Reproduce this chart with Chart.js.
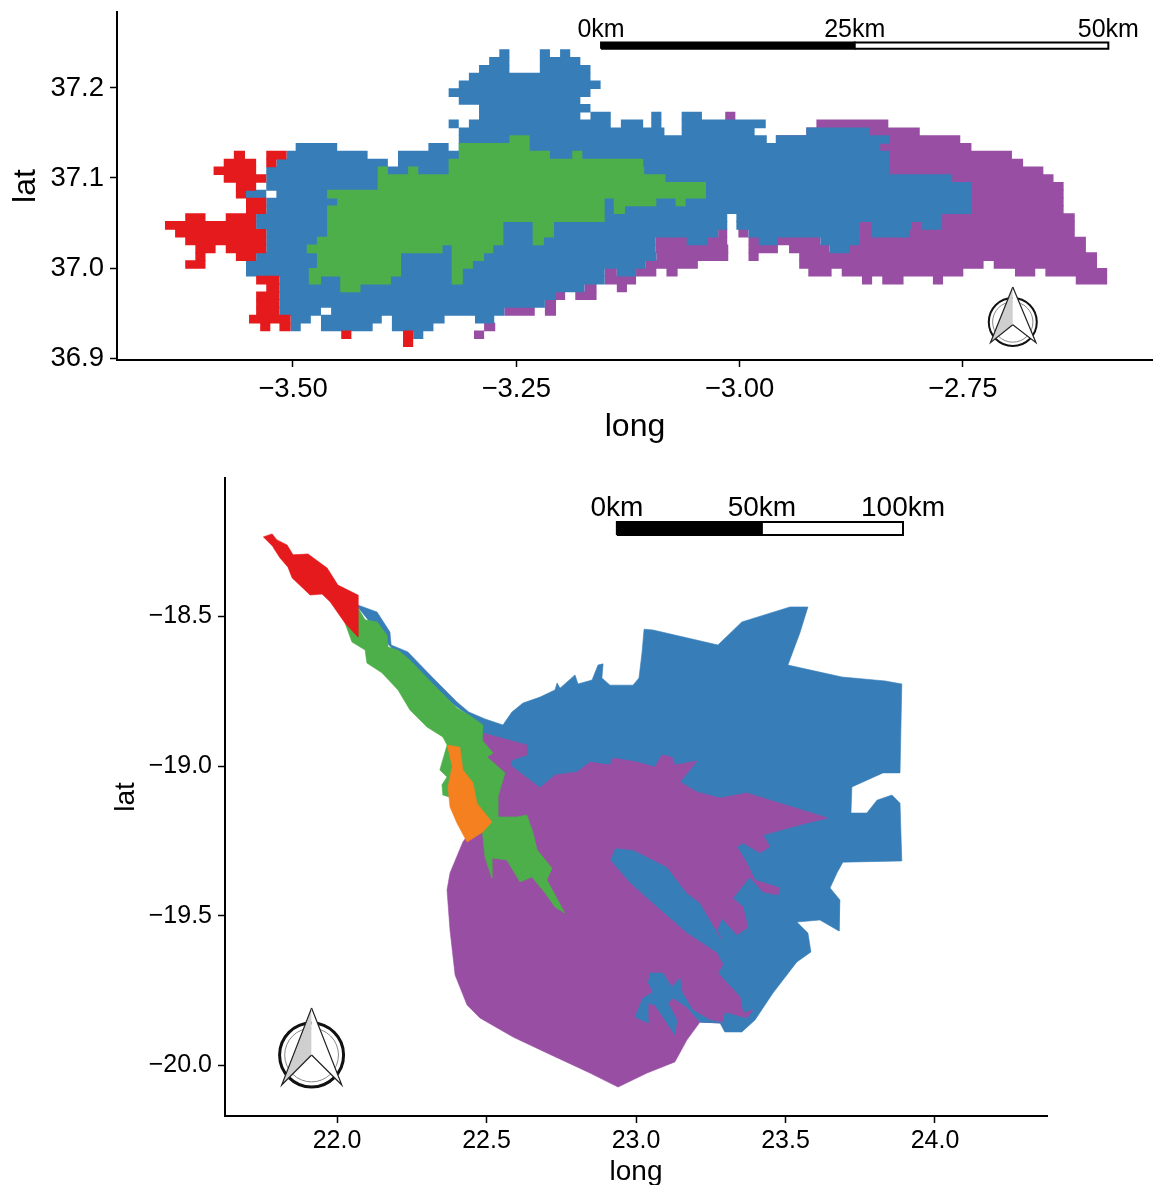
<!DOCTYPE html>
<html><head><meta charset="utf-8">
<script src="https://cdn.jsdelivr.net/npm/chart.js@4"></script>
<style>
html,body{margin:0;padding:0;background:#fff;width:1153px;height:1185px;overflow:hidden}
canvas{position:absolute;left:0}
#top{top:0;filter:blur(0.45px)}
#bottom{top:460px}
</style></head><body>
<canvas id="top" width="1153" height="450"></canvas>
<canvas id="bottom" width="1153" height="735"></canvas>
<script>
const RED='#E41A1C',BLUE='#377EB8',GREEN='#4DAF4A',PURPLE='#984EA3',ORANGE='#F58020';

/* ---------- upper map: raster ---------- */
/* each entry: [row, colStart, colEnd, colStart, colEnd, ...] */
const cellOriginLon=-3.6433, cellOriginLat=37.243, cellLon=0.011344, cellLat=0.008678;
const purpleCells=[
[8,55.3,56.3],[9,64.3,71.4],[10,63.3,74.5],[11,60.3,78.5],[12,70,79.6],[13,70,83.6],[14,70,84.7],[15,70,86.7],
[16,70,87.7],[17,75,88.7],[18,75,88.7],[19,75,88.7],[20,75,88.7],[21,75,89.8],[22,68,89.8],
[23,54.6,55.5,56.6,57.6,68.6,89.8],[24,48.4,55.5,57.6,64.7,68,90.9],[25,48.4,55.6,57.6,60.5,61.6,65.6,67,90.9],
[26,48.5,55.6,57.6,58.6,62.6,92],[27,47.4,52.6,62.6,80.8,81.8,92],
[28,43.4,44.6,46.5,48.5,49.5,50.6,63.5,65.8,66.8,78.8,83.9,85.9,86.9,93],
[29,43.4,46.5,68.8,69.8,70.8,72.9,75.8,76.8,89.9,93],[30,41.4,42.6,44.6,45.6],[31,38.5,39.5,40.5,42.6],
[32,37.5,38.6],[33,33.5,36.5,37.5,38.6],[35,31.5,32.6],[36,30.5,31.5]];
const blueCells=[
[0,33,34,37,38,39,40],[1,32,34,37,41],[2,31,34,37,42],[3,30,42],[4,29,43],[5,28,42],[6,29,41],[7,31,42],
[8,31,41,42,44,48,49,51,53],[9,28,29,30,44,45,47.2,48,49,51,59.3],[10,29,49.3,51,58.2,63.3,69.5],
[11,29,59.4,60.3,71.5],[12,12.9,17,26,28,29,70.6],[13,12,20,23,71.5],[14,11,22,23,71.5],[15,10,71.5],
[16,10,77.7],[17,10,79.6],[18,8,10,11,79.6],[19,10,79.6],[20,10,79.6],[21,9,55.5,56.4,76.7],
[22,9,55.5,56.4,68.6,69.7,73.7,74.7,76.7],[23,10,54.6,57.6,68.6,69.7,73.5],
[24,10,48.4,51.5,53.5,58.6,60.5,64.7,68.6],[25,10,48.4,65.6,67.6],[26,9,48.5],[27,8,47.4],[28,8,43.4,44.6,46.5],
[29,11.3,43.4],[30,11.3,41.4],[31,11.3,38.5],[32,11.3,37.5],[33,11.3,15.4,16.4,33.5],
[34,12.4,14.4,15.4,21.4,22.4,27.6,30.6,32.5],[35,12.4,13.4,15.4,20.5,22.4,26.5],[36,24.5,25.5]];
const greenCells=[
[11,34,36],[12,29,36],[13,29,38,40.2,41.2],[14,28,47.2],[15,21,22,24,25,28,47.3],[16,21,49.4],[17,21,53.4],
[18,16,53.4],[19,17,43.4,44.3,48.5,50.4,51.4],[20,16,43.4,44.3,45.4],[21,16,43.4],[22,16,33.4,36.3,38.4],
[23,16,33.4,36.3,38.4],[24,15,33.4,36.3,37.4],[25,14,27.4,28.3,32.4],[26,15,23.3,28.3,31.5],[27,15,23.3,28.3,30.4],
[28,14.2,23.3,28.3,29.4],[29,14.2,15.4,17.3,22.3,28.3,29.4],[30,17.3,19.3]];
const redCells=[
[13,6.8,7.9,10,12],[14,5.8,9,10,11],[15,4.8,9],[16,5.8,10],[17,7,9],[18,7,8],[19,8,10],[20,8,10],[21,2,4,6,9],
[22,0,9],[23,1,10],[24,2,10],[25,3,5,6,10],[26,3,4,7,9],[27,2,4],[29,9,11.3],[30,10,11.3],[31,9,11.3],[32,9,11.3],
[33,9,11.3],[34,8.3,12.4],[35,9.4,10.4,11.3,12.4],[36,17.4,18.4,23.5,24.5],[37,23.5,24.5]];

const topLonTicks=[-3.5,-3.25,-3,-2.75], topLatTicks=[36.9,37,37.1,37.2];
const topLonRange=[-3.697,-2.537], topLatRange=[36.8978,37.2844];
const topBarLon=[-3.155,-2.871,-2.587], topBarLat=[37.2435,37.2505], topBarLabelLat=37.2645;
const topBarLabels=['0km','25km','50km'];
const topArrowLeft=[[-2.694,36.979],[-2.719,36.917],[-2.694,36.937]];
const topArrowRight=[[-2.694,36.979],[-2.668,36.917],[-2.694,36.937]];
const topRingCentre=[-2.694,36.940];

/* ---------- lower map: outlines (long, lat) ---------- */
const lowerBlue=[[22.060,-18.459],[22.134,-18.486],[22.177,-18.553],[22.181,-18.596],[22.237,-18.619],[22.321,-18.706],[22.401,-18.786],[22.441,-18.820],[22.495,-18.843],[22.555,-18.863],[22.585,-18.820],[22.622,-18.790],[22.679,-18.770],[22.729,-18.746],[22.736,-18.723],[22.746,-18.740],[22.796,-18.696],[22.806,-18.726],[22.853,-18.713],[22.873,-18.663],[22.890,-18.659],[22.886,-18.706],[22.913,-18.730],[22.990,-18.730],[23.010,-18.706],[23.020,-18.623],[23.027,-18.543],[23.057,-18.546],[23.274,-18.596],[23.354,-18.519],[23.515,-18.469],[23.575,-18.469],[23.548,-18.556],[23.508,-18.663],[23.689,-18.703],[23.833,-18.716],[23.889,-18.726],[23.883,-19.023],[23.826,-19.023],[23.722,-19.070],[23.719,-19.157],[23.772,-19.157],[23.806,-19.114],[23.856,-19.097],[23.883,-19.124],[23.889,-19.317],[23.692,-19.321],[23.672,-19.357],[23.649,-19.407],[23.682,-19.447],[23.679,-19.551],[23.615,-19.514],[23.538,-19.521],[23.575,-19.558],[23.585,-19.621],[23.538,-19.654],[23.458,-19.758],[23.398,-19.848],[23.354,-19.888],[23.297,-19.888],[23.281,-19.858],[23.214,-19.855],[22.746,-19.250],[22.500,-19.000],[22.461,-18.846],[22.278,-18.713],[22.144,-18.563]];
const lowerPurple=[[22.488,-18.890],[22.635,-18.930],[22.635,-18.963],[22.585,-18.980],[22.579,-18.997],[22.679,-19.073],[22.729,-19.030],[22.803,-19.020],[22.846,-18.987],[22.913,-18.997],[22.923,-18.973],[23.003,-18.987],[23.063,-19.003],[23.087,-18.963],[23.120,-18.970],[23.130,-18.997],[23.204,-18.983],[23.174,-19.020],[23.147,-19.053],[23.204,-19.087],[23.281,-19.107],[23.371,-19.090],[23.481,-19.124],[23.642,-19.174],[23.572,-19.190],[23.425,-19.230],[23.448,-19.270],[23.415,-19.290],[23.358,-19.257],[23.338,-19.270],[23.371,-19.324],[23.398,-19.381],[23.481,-19.407],[23.475,-19.431],[23.425,-19.421],[23.381,-19.371],[23.324,-19.441],[23.358,-19.471],[23.374,-19.538],[23.338,-19.564],[23.287,-19.508],[23.271,-19.548],[23.287,-19.581],[23.214,-19.457],[23.170,-19.424],[23.104,-19.337],[22.990,-19.280],[22.930,-19.274],[22.913,-19.314],[22.980,-19.391],[23.070,-19.471],[23.170,-19.558],[23.271,-19.624],[23.291,-19.664],[23.274,-19.691],[23.348,-19.771],[23.358,-19.825],[23.391,-19.815],[23.371,-19.841],[23.297,-19.821],[23.287,-19.858],[23.214,-19.855],[23.170,-19.915],[23.130,-19.988],[23.037,-20.025],[22.940,-20.072],[22.846,-20.025],[22.702,-19.958],[22.589,-19.905],[22.478,-19.841],[22.435,-19.798],[22.395,-19.698],[22.378,-19.548],[22.368,-19.414],[22.378,-19.357],[22.421,-19.254],[22.461,-19.197],[22.478,-19.047]];
const lowerBlueLobes=[[23.047,-19.691],[23.090,-19.691],[23.120,-19.738],[23.147,-19.708],[23.154,-19.755],[23.190,-19.815],[23.247,-19.848],[23.291,-19.858],[23.214,-19.855],[23.170,-19.805],[23.124,-19.775],[23.107,-19.791],[23.137,-19.848],[23.130,-19.898],[23.104,-19.858],[23.063,-19.798],[23.037,-19.791],[23.040,-19.858],[22.997,-19.838],[23.023,-19.775],[23.057,-19.755],[23.040,-19.721]];
const lowerGreen=[[22.070,-18.472],[22.094,-18.512],[22.134,-18.519],[22.167,-18.563],[22.171,-18.603],[22.204,-18.613],[22.244,-18.646],[22.321,-18.726],[22.401,-18.806],[22.451,-18.836],[22.488,-18.863],[22.485,-18.913],[22.522,-18.957],[22.502,-18.970],[22.562,-19.023],[22.538,-19.104],[22.538,-19.170],[22.602,-19.170],[22.635,-19.164],[22.655,-19.220],[22.669,-19.280],[22.719,-19.341],[22.702,-19.381],[22.762,-19.491],[22.729,-19.471],[22.696,-19.424],[22.652,-19.371],[22.612,-19.387],[22.568,-19.314],[22.518,-19.307],[22.518,-19.374],[22.495,-19.304],[22.485,-19.207],[22.411,-19.114],[22.354,-19.097],[22.351,-19.063],[22.368,-19.037],[22.344,-19.013],[22.368,-18.930],[22.354,-18.903],[22.301,-18.870],[22.244,-18.813],[22.204,-18.746],[22.150,-18.689],[22.100,-18.656],[22.094,-18.613],[22.050,-18.586],[22.027,-18.523],[22.067,-18.546]];
const lowerOrange=[[22.368,-18.930],[22.411,-18.937],[22.421,-19.013],[22.455,-19.057],[22.468,-19.124],[22.518,-19.187],[22.488,-19.220],[22.435,-19.254],[22.401,-19.190],[22.378,-19.137],[22.371,-19.070],[22.385,-19.003]];
const lowerRed=[[21.753,-18.235],[21.783,-18.225],[21.799,-18.245],[21.833,-18.262],[21.853,-18.295],[21.903,-18.292],[21.967,-18.339],[22.003,-18.396],[22.070,-18.429],[22.070,-18.569],[22.027,-18.523],[21.977,-18.452],[21.950,-18.426],[21.910,-18.429],[21.850,-18.372],[21.836,-18.336],[21.809,-18.305],[21.786,-18.269]];

const lowLonTicks=[22,22.5,23,23.5,24], lowLatTicks=[-18.5,-19,-19.5,-20];
const lowLonRange=[21.6254,24.3746], lowLatRange=[-20.1686,-18.0384];
const lowBarLon=[22.936,23.421,23.893], lowBarLat=[-18.229,-18.185], lowBarLabelLat=-18.139;
const lowBarLabels=['0km','50km','100km'];
const lowArrowLeft=[[21.915,-19.808],[21.815,-20.065],[21.915,-19.965]];
const lowArrowRight=[[21.915,-19.808],[22.016,-20.065],[21.915,-19.965]];
const lowRingCentre=[21.915,-19.965];

/* ---------- helpers ---------- */
function poly(pairs,fillColor,edge,edgeW){
  return {data:pairs.map(p=>({x:p[0],y:p[1]})),showLine:true,fill:'shape',tension:0,pointRadius:0,
    backgroundColor:fillColor,borderColor:edge||fillColor,borderWidth:edgeW===undefined?0.6:edgeW};
}
function cellsToSets(rows,color){
  const out=[];
  rows.forEach(r=>{
    /* each row reaches slightly into the next one so no seam shows between rows */
    const j=r[0],y0=cellOriginLat-j*cellLat,y1=y0-cellLat*1.1;
    for(let k=1;k<r.length;k+=2){
      const x0=cellOriginLon+r[k]*cellLon,x1=cellOriginLon+r[k+1]*cellLon;
      out.push(poly([[x0,y0],[x1,y0],[x1,y1],[x0,y1],[x0,y0]],color,color,0));
    }
  });
  return out;
}
function barSets(lons,lats){
  const box=(a,b,c)=>poly([[a,lats[0]],[b,lats[0]],[b,lats[1]],[a,lats[1]],[a,lats[0]]],c,'#000',2);
  return [box(lons[0],lons[1],'#000'),box(lons[1],lons[2],'#fff')];
}
function arrowSets(left,right,centre,r,rw){
  const ring=(rad,col,w)=>({data:[{x:centre[0],y:centre[1]}],showLine:false,pointRadius:rad,
    pointBackgroundColor:'rgba(0,0,0,0)',pointBorderColor:col,pointBorderWidth:w});
  return [ring(r,'#111',rw),ring(r*0.84,'#888',1),
    poly(left,'#cfcfcf','#222',1.2),poly(right,'#fff','#222',1.2)];
}
const barText={id:'barText',afterDraw(c,a,o){
  const g=c.ctx;g.save();g.fillStyle='#000';g.font=o.font;g.textAlign='center';g.textBaseline='middle';
  o.labels.forEach((t,i)=>g.fillText(t,c.scales.x.getPixelForValue(o.lons[i]),c.scales.y.getPixelForValue(o.lat)));
  g.restore();
}};
const minus=s=>s.replace('-','\u2212');
function axes(cfg){
  const fnt=n=>({family:'"Liberation Sans",Arial,sans-serif',size:n});
  const common={type:'linear',grid:{drawOnChartArea:false,drawTicks:true,tickLength:cfg.tickLen,tickColor:'#000',tickWidth:cfg.tickW},
    border:{display:true,color:'#000',width:cfg.axisW}};
  return {
    x:{...common,min:cfg.xr[0],max:cfg.xr[1],
      afterBuildTicks:a=>{a.ticks=cfg.xt.map(v=>({value:v}))},
      afterFit:s=>{s.height=cfg.xh;s.paddingLeft=0;s.paddingRight=0;s.paddingTop=0;s.paddingBottom=0},
      ticks:{color:'#000',font:fnt(cfg.tickFont),padding:cfg.xPad,maxRotation:0,autoSkip:false,callback:v=>minus(v.toFixed(cfg.xDec))},
      title:{display:true,text:'long',color:'#000',font:fnt(cfg.titleFont),padding:cfg.xTitlePad}},
    y:{...common,min:cfg.yr[0],max:cfg.yr[1],
      afterBuildTicks:a=>{a.ticks=cfg.yt.map(v=>({value:v}))},
      afterFit:s=>{s.width=cfg.yw;s.paddingLeft=0;s.paddingRight=0;s.paddingTop=0;s.paddingBottom=0},
      ticks:{color:'#000',font:fnt(cfg.tickFont),padding:cfg.yPad,autoSkip:false,callback:v=>minus(v.toFixed(1))},
      title:{display:true,text:'lat',color:'#000',font:fnt(cfg.titleFont),padding:cfg.yTitlePad}}
  };
}
function draw(id,layers,scales,padding,textOpts){
  /* Chart.js paints the first dataset last, so the layer list is reversed */
  const datasets=layers.slice().reverse();
  new Chart(document.getElementById(id),{type:'scatter',data:{datasets},plugins:[barText],
    options:{responsive:false,animation:false,events:[],layout:{padding,autoPadding:false},scales,
      plugins:{legend:{display:false},tooltip:{enabled:false},barText:textOpts}}});
}

draw('top',[
  ...cellsToSets(purpleCells,PURPLE),...cellsToSets(blueCells,BLUE),
  ...cellsToSets(greenCells,GREEN),...cellsToSets(redCells,RED),
  ...barSets(topBarLon,topBarLat),
  ...arrowSets(topArrowLeft,topArrowRight,topRingCentre,24,2)
],axes({xr:topLonRange,yr:topLatRange,xt:topLonTicks,yt:topLatTicks,xh:90,yw:110,tickFont:27.5,titleFont:32,
  tickLen:7,tickW:1.5,axisW:2,xDec:2,xPad:6,yPad:6,xTitlePad:{top:4,bottom:4},yTitlePad:{top:0,bottom:0}}),
  {left:7,top:12,right:0,bottom:0},
  {labels:topBarLabels,lons:topBarLon,lat:topBarLabelLat,font:'25px "Liberation Sans",Arial,sans-serif'});

draw('bottom',[
  poly(lowerBlue,BLUE),poly(lowerPurple,PURPLE),poly(lowerBlueLobes,BLUE),
  poly(lowerGreen,GREEN),poly(lowerOrange,ORANGE),poly(lowerRed,RED),
  ...barSets(lowBarLon,lowBarLat),
  ...arrowSets(lowArrowLeft,lowArrowRight,lowRingCentre,32,3)
],axes({xr:lowLonRange,yr:lowLatRange,xt:lowLonTicks,yt:lowLatTicks,xh:79,yw:116,tickFont:25,titleFont:28,
  tickLen:7,tickW:1.5,axisW:2,xDec:1,xPad:3,yPad:6,xTitlePad:{top:2,bottom:6},yTitlePad:{top:0,bottom:0}}),
  {left:109,top:18,right:106,bottom:0},
  {labels:lowBarLabels,lons:lowBarLon,lat:lowBarLabelLat,font:'28px "Liberation Sans",Arial,sans-serif'});
</script>
</body></html>
